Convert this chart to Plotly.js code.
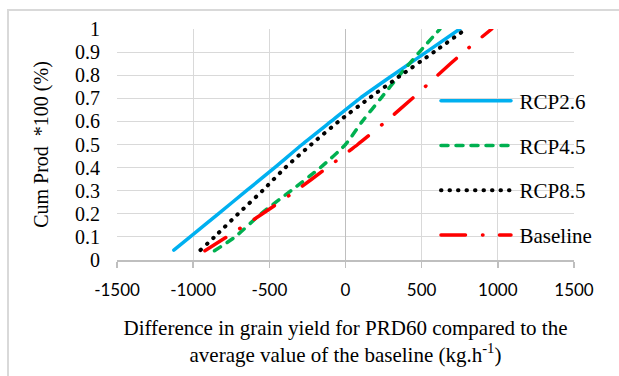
<!DOCTYPE html>
<html>
<head>
<meta charset="utf-8">
<script src="https://cdn.plot.ly/plotly-3.0.1.min.js"></script>
<style>
  html, body { margin: 0; padding: 0; background: #fff; overflow: hidden; }
  #wrap { position: relative; width: 619px; height: 376px; }
  #chart { position: absolute; left: 0; top: 0; width: 619px; height: 376px; }
  #frame { position: absolute; left: 7px; top: 9px; width: 700px; height: 500px;
           border: 2px solid #d9d9d9; pointer-events: none; box-sizing: border-box; }
  .js-line { stroke-linecap: round; }
</style>
</head>
<body>
<div id="wrap">
  <div id="chart"></div>
  <div id="frame"></div>
</div>
<script>
// Cumulative probability levels (y) and yield differences (x)
const rcp26X = [-1127, -1020, -835, -650, -465, -285, -95, 95, 310, 530, 750];
const rcp26Y = [0.043, 0.1, 0.2, 0.3, 0.4, 0.5, 0.6, 0.7, 0.8, 0.9, 1.0];

const rcp45X = [-860, -725, -555, -358, -165, 0, 110, 232, 355, 485, 620];
const rcp45Y = [0.04, 0.1, 0.2, 0.3, 0.4, 0.5, 0.6, 0.7, 0.8, 0.9, 1.0];

const rcp85X = [-952, -860, -705, -545, -395, -225, -45, 155, 365, 580, 770];
const rcp85Y = [0.043, 0.1, 0.2, 0.3, 0.4, 0.5, 0.6, 0.7, 0.8, 0.9, 0.99];

const baseX = [-923, -780, -545, -325, -120, 80, 265, 440, 605, 775, 960];
const baseY = [0.04, 0.1, 0.2, 0.3, 0.4, 0.5, 0.6, 0.7, 0.8, 0.9, 1.0];

const seriesNames = ['RCP2.6', 'RCP4.5', 'RCP8.5', 'Baseline'];

const xTickVals = [-1500, -1000, -500, 0, 500, 1000, 1500];
const xTickText = ['-1500', '-1000', '-500', '0', '500', '1000', '1500'];
const yTickVals = [0, 0.1, 0.2, 0.3, 0.4, 0.5, 0.6, 0.7, 0.8, 0.9, 1];
const yTickText = ['0', '0.1', '0.2', '0.3', '0.4', '0.5', '0.6', '0.7', '0.8', '0.9', '1'];

const serif = 'Liberation Serif, Times New Roman, serif';
const gap = '\u2006';

const traces = [
  { x: rcp26X, y: rcp26Y, name: gap + seriesNames[0], legendgroup: 'a',
    line: { color: '#00b0f0', width: 3.5 } },
  { x: rcp45X, y: rcp45Y, name: gap + seriesNames[1], legendgroup: 'b',
    line: { color: '#00b050', width: 3.5, dash: '7px,8px' } },
  { x: rcp85X, y: rcp85Y, name: gap + seriesNames[2], legendgroup: 'c',
    line: { color: '#000000', width: 4, dash: '0.5px,8px' } },
  { x: baseX, y: baseY, name: gap + seriesNames[3], legendgroup: 'd',
    line: { color: '#ff0000', width: 3.5, dash: '24.5px,17px,0.5px,16.5px' } }
].map(t => {
  t.line.shape = 'spline';
  t.line.smoothing = 0.6;
  return Object.assign({ type: 'scatter', mode: 'lines', hoverinfo: 'skip' }, t);
});

const layout = {
  width: 619, height: 376,
  margin: { l: 117, r: 45, t: 29, b: 116 },
  paper_bgcolor: '#ffffff', plot_bgcolor: '#ffffff',
  showlegend: true,
  xaxis: {
    range: [-1500, 1500],
    tickmode: 'array', tickvals: xTickVals, ticktext: xTickText,
    showgrid: true, gridcolor: '#d9d9d9', gridwidth: 1,
    zeroline: true, zerolinecolor: '#bfbfbf', zerolinewidth: 1.5,
    showline: true, linecolor: '#bfbfbf', linewidth: 1.5,
    ticks: 'outside', ticklen: 6, tickwidth: 1.5, tickcolor: '#bfbfbf',
    tickfont: { family: 'Lato, sans-serif', size: 17, color: '#000' },
    ticklabelstandoff: 8,
    title: {
      text: 'Difference in grain yield for PRD60 compared to the<br>average value of the baseline (kg.h<sup>-1</sup>)',
      font: { family: serif, size: 21, color: '#000' },
      standoff: 21
    },
    fixedrange: true
  },
  yaxis: {
    range: [0, 1],
    tickmode: 'array', tickvals: yTickVals, ticktext: yTickText,
    showgrid: true, gridcolor: '#d9d9d9', gridwidth: 1,
    zeroline: false, showline: false, ticks: '',
    tickfont: { family: serif, size: 20, color: '#000' },
    ticklabelstandoff: 16,
    title: {
      text: 'Cum Prod  *100 (%)',
      font: { family: serif, size: 20, color: '#000' },
      standoff: 21
    },
    fixedrange: true
  },
  legend: {
    x: 0.698, xanchor: 'left', y: 0.777, yanchor: 'top',
    bgcolor: 'rgba(0,0,0,0)', borderwidth: 0,
    font: { family: serif, size: 21, color: '#000' },
    itemwidth: 70, traceorder: 'grouped', tracegroupgap: 14.5
  }
};

Plotly.newPlot('chart', traces, layout, { staticPlot: true, displayModeBar: false });
</script>
</body>
</html>
